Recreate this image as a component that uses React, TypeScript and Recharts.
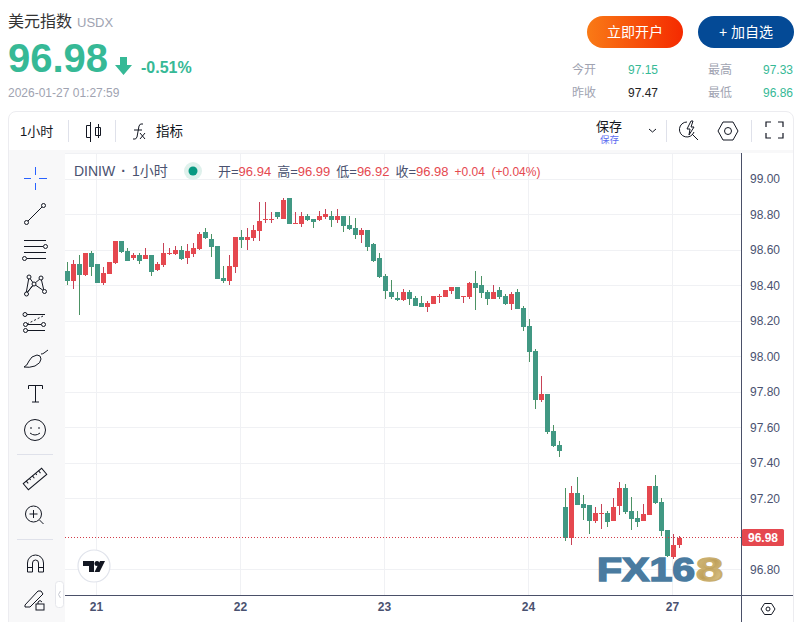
import React from "react";
import { ComposedChart, Bar, XAxis, YAxis, CartesianGrid, ReferenceLine } from "recharts";

const opens = [98.481,98.424,98.52,98.458,98.582,98.52,98.413,98.464,98.526,98.65,98.593,98.554,98.571,98.548,98.571,98.486,98.515,98.577,98.577,98.599,98.554,98.577,98.605,98.7,98.661,98.622,98.441,98.424,98.503,98.672,98.655,98.667,98.706,98.768,98.768,98.813,98.774,98.892,98.746,98.746,98.791,98.774,98.768,98.785,98.791,98.768,98.791,98.74,98.723,98.684,98.712,98.633,98.554,98.453,98.362,98.329,98.317,98.362,98.329,98.3,98.278,98.295,98.334,98.334,98.368,98.391,98.334,98.334,98.413,98.402,98.362,98.323,98.374,98.34,98.295,98.362,98.272,98.171,98.03,97.754,97.788,97.579,97.5,97.151,96.976,97.23,97.168,97.162,97.072,97.112,97.117,97.072,97.157,97.258,97.129,97.089,97.072,97.106,97.269,97.179,97.022,96.869,96.94];
const highs = [98.531,98.543,98.571,98.582,98.593,98.52,98.503,98.531,98.65,98.65,98.61,98.582,98.582,98.61,98.571,98.531,98.638,98.61,98.622,98.622,98.633,98.638,98.7,98.723,98.689,98.622,98.509,98.571,98.672,98.712,98.723,98.74,98.869,98.869,98.813,98.813,98.892,98.892,98.813,98.813,98.802,98.774,98.819,98.83,98.819,98.83,98.791,98.791,98.779,98.723,98.712,98.638,98.582,98.464,98.43,98.362,98.379,98.374,98.34,98.34,98.312,98.34,98.351,98.374,98.391,98.391,98.34,98.419,98.481,98.453,98.374,98.402,98.391,98.351,98.362,98.379,98.284,98.21,98.041,97.889,97.788,97.613,97.523,97.258,97.269,97.32,97.219,97.162,97.151,97.168,97.129,97.202,97.292,97.281,97.208,97.129,97.168,97.269,97.331,97.202,97.022,96.999,96.99];
const lows = [98.402,98.379,98.233,98.453,98.453,98.413,98.402,98.464,98.52,98.582,98.537,98.543,98.52,98.548,98.453,98.481,98.503,98.571,98.571,98.543,98.52,98.56,98.599,98.661,98.56,98.436,98.413,98.402,98.469,98.61,98.599,98.65,98.65,98.751,98.751,98.774,98.774,98.746,98.746,98.729,98.762,98.723,98.762,98.774,98.729,98.751,98.7,98.712,98.661,98.638,98.593,98.531,98.441,98.323,98.323,98.312,98.312,98.289,98.284,98.278,98.25,98.295,98.3,98.334,98.351,98.323,98.3,98.323,98.261,98.329,98.289,98.323,98.323,98.289,98.261,98.267,98.143,97.968,97.703,97.743,97.562,97.489,97.433,96.96,96.937,97.162,97.078,96.999,97.061,97.027,97.038,97.072,97.106,97.112,97.022,97.038,97.072,97.106,97.168,96.988,96.869,96.86,96.92];
const closes = [98.424,98.52,98.458,98.582,98.503,98.413,98.469,98.531,98.65,98.588,98.537,98.571,98.537,98.571,98.475,98.52,98.582,98.582,98.599,98.548,98.593,98.61,98.689,98.667,98.616,98.436,98.424,98.509,98.672,98.655,98.672,98.712,98.762,98.774,98.774,98.785,98.881,98.746,98.751,98.791,98.768,98.757,98.791,98.802,98.768,98.791,98.734,98.717,98.684,98.712,98.616,98.537,98.447,98.368,98.334,98.317,98.362,98.323,98.284,98.278,98.3,98.34,98.34,98.374,98.391,98.323,98.34,98.413,98.385,98.357,98.323,98.362,98.334,98.295,98.351,98.267,98.165,98.024,97.754,97.788,97.574,97.495,97.467,96.976,97.23,97.162,97.146,97.072,97.117,97.117,97.067,97.151,97.258,97.123,97.084,97.067,97.112,97.269,97.174,97.016,96.875,96.937,96.98];

const slotCount = 113;
const dayTickSlots = [5, 29, 53, 77, 101];
const dayTickLabels = ["21", "22", "23", "24", "27"];
const priceTicks = [99, 98.8, 98.6, 98.4, 98.2, 98, 97.8, 97.6, 97.4, 97.2, 96.8];
const lastPrice = 96.98;
const lastOpen = 96.94;
const lastHigh = 96.99;
const lastLow = 96.92;
const lastChange = "+0.04";
const lastChangePct = "(+0.04%)";

const rows = Array.from({ length: slotCount }, (_, i) => ({
  slot: i,
  open: opens[i],
  high: highs[i],
  low: lows[i],
  close: closes[i],
}));

const SANS = '"Liberation Sans", "Noto Sans CJK SC", sans-serif';
const UP = "#e5484f";
const UP_WICK = "#c74256";
const DOWN = "#419883";
const DOWN_WICK = "#4c9264";
const INK = "#131722";
const SLATE = "#4a5270";
const MUTED = "#a0a3b1";
const TEAL = "#36b996";

function Candle(props: any) {
  const { x, y, width, height, payload } = props;
  if (payload == null || payload.high == null) return null;
  const { open, high, low, close } = payload;
  const k = height / (high - low);
  const up = close >= open;
  const top = Math.round(y + (high - Math.max(open, close)) * k);
  const bottom = Math.round(y + (high - Math.min(open, close)) * k);
  const left = Math.round(x);
  const wickTop = Math.round(y);
  const wickBottom = Math.round(y + height);
  return (
    <g>
      <rect x={left + 2} y={wickTop} width={1} height={wickBottom - wickTop} fill={up ? UP_WICK : DOWN_WICK} shapeRendering="crispEdges" />
      <rect x={left} y={top} width={5} height={Math.max(1, bottom - top)} fill={up ? UP : DOWN} shapeRendering="crispEdges" />
    </g>
  );
}

function PriceTag(props: any) {
  const vb = props.viewBox;
  const yMid = Math.floor(vb.y);
  const xStart = 742;
  return (
    <g>
      <rect x={xStart} y={yMid - 8} width={42} height={17} rx={1.5} fill={UP} />
      <text x={xStart + 21} y={yMid + 4.8} textAnchor="middle" fontSize={12} fontWeight={700} fill="#fff" fontFamily={SANS}>
        {lastPrice.toFixed(2)}
      </text>
    </g>
  );
}

function PriceLine(props: any) {
  const py = Math.floor(props.y1 ?? props.y ?? 0) + 0.5;
  return <line x1={65} x2={741} y1={py} y2={py} stroke="#d23c48" strokeDasharray="1 2" />;
}

function GridRow(props: any) {
  const py = Math.floor(props.y1 + 0.01) + 0.5;
  return <line x1={props.x1} x2={props.x2} y1={py} y2={py} stroke="#f0f1f4" />;
}

const abs = (left: number, top: number, extra: React.CSSProperties = {}): React.CSSProperties => ({
  position: "absolute",
  left,
  top,
  whiteSpace: "nowrap",
  ...extra,
});

function Label({ x, y, size, color, weight, children }: any) {
  return (
    <div style={abs(x, y - size * 0.75, { fontSize: size, color, fontWeight: weight ?? 400, lineHeight: `${size * 1.5}px` })}>
      {children}
    </div>
  );
}

function Icons() {
  const s = { fill: "none", stroke: INK, strokeWidth: 1 };
  const c = (cx: number, cy: number, r = 2) => <circle cx={cx} cy={cy} r={r} {...s} fill="#f8f8f9" />;
  return (
    <svg width={802} height={622} style={{ position: "absolute", left: 0, top: 0 }}>
      <path d="M68.5 120V142M115.5 120V142M666.5 120V142M751.5 120V142" stroke="#dfe1ea" />
      <path d="M17 454.5H53M17 539.5H53" stroke="#dfe1ea" />
      <path d="M90.5 122V142M86.5 125.500h4v12h-4zM98.500 124V138M95.500 127.500h5v8h-5z" {...s} fill="#fff" />
      <path d="M133 139q3 1 4-2l2-11q1-3 4-2M134 130h8" {...s} />
      <path d="M140 133l5 6M145 133l-5 6" {...s} />
      <path d="M649 129l3.500 3 3.500-3" {...s} />
      <path d="M687 122a7.500 7.500 0 1 0 7 10" {...s} />
      <path d="M691 121l-4 8h3l-1 6 5-8h-3l2-6zM692 134l6 6" {...s} />
      <path d="M718 131l5-9h10l5 9-5 9h-10z" {...s} />
      <circle cx={728} cy={131} r={3.5} {...s} />
      <path d="M766 127v-5h5M778 122h5v5M783 133v5h-5M771 138h-5v-5" {...s} strokeWidth={1.2} />
      <path d="M24 178.500h7M39 178.500h8M35.500 167v8M35.500 183v7" stroke="#2962ff" fill="none" />
      <path d="M28 221L42 207" {...s} />
      {c(26.5, 222.5)}
      {c(43.5, 205.5)}
      <path d="M24 240.500H46M24 246.500H43M24 252.500H46M27 258.500H46" {...s} />
      {c(45.5, 246.5)}
      {c(24.5, 258.5)}
      <path d="M29 277L34 284L26 294L29 277M41 278L34 284L44 291L41 278M26 294L34 284" {...s} />
      {c(29, 277)}
      {c(41, 278)}
      {c(34, 284)}
      {c(26.5, 294)}
      {c(44.5, 291.5)}
      <path d="M27 314.500H45M27 330.500H45" {...s} />
      <path d="M27 324L43 316" {...s} strokeDasharray="2 2" />
      <path d="M27 324.500H41" {...s} />
      {c(25, 314.5)}
      {c(25.5, 324.5)}
      {c(43.5, 324.5)}
      {c(25.5, 330.5)}
      <path d="M24 367q3-1 5-6t8-6q4 0 4 4t-6 7q-6 2-11 1zM41 354q2 0 3-1l4-3" {...s} />
      <path d="M28.500 389v-3.500h14v3.500M35.500 385.500V402M32 402h7" {...s} />
      <circle cx={35} cy={430} r={10.5} {...s} />
      <path d="M30 433q5 4 10 0M31 427v2M39 427v2" {...s} />
      <g transform="rotate(-40 35 479)">
        <rect x={23} y={475} width={24} height={8} {...s} />
        <path d="M27 475v3M31 475v2M35 475v3M39 475v2M43 475v3" {...s} />
      </g>
      <circle cx={33.5} cy={514} r={8} {...s} />
      <path d="M33.500 510v8M29.500 514h8M39.500 520l4 4" {...s} />
      <path d="M27.500 572v-9a8 8 0 0 1 16 0v9h-5v-9a3 3 0 0 0-6 0v9zM27.500 567.500h5M38.500 567.500h5" {...s} />
      <path d="M25 605l13-14 3 0 2 3-13 13-5 0z" {...s} />
      <rect x={36} y={604} width={8} height={6} {...s} fill="#f8f8f9" />
      <path d="M38 604v-2q2-3 4 0" {...s} />
      <rect x={55.500} y={581.500} width={8} height={26} rx={3} fill="#fff" stroke="#e6e7ec" />
      <path d="M60.500 591l-2 3.500 2 3.500" fill="none" stroke="#c4c6cf" />
      <path d="M761 609l3.500-5.500h7l3.500 5.500-3.500 5.500h-7z" {...s} />
      <circle cx={768} cy={609} r={2} {...s} />
      <path d="M741.500 595.500H793M741.500 595.500V622" stroke="#4a5068" fill="none" />
      <circle cx={94} cy={566} r={16} fill="#fff" stroke="#e0e3eb" strokeWidth={1.2} />
      <path d="M83 561h11v11h-5v-6h-6zM100 561h5l-5.500 11h-5z" fill={INK} />
      <circle cx={97} cy={563.500} r={2.500} fill={INK} />
      <circle cx={193} cy={171} r={9} fill="#dff1ec" />
      <circle cx={193} cy={171} r={4.500} fill="#089981" />
      <path d="M120 57h7v8h5l-8.500 10-8.500-10h5z" fill={TEAL} />
      <defs>
        <linearGradient id="gold" x1="0" x2="1" y1="0" y2="1">
          <stop offset="0" stopColor="#d9c48a" />
          <stop offset="0.5" stopColor="#bfa05a" />
          <stop offset="1" stopColor="#e3cf98" />
        </linearGradient>
      </defs>
      <text x={597} y={580.5} fontFamily={SANS} fontWeight={700} fontSize={33.5} fill="#4a7ba0" stroke="#4a7ba0" strokeWidth={1.5} textLength={98} lengthAdjust="spacingAndGlyphs">FX16</text>
      <text x={696} y={580.5} fontFamily={SANS} fontWeight={700} fontSize={33.5} fill="url(#gold)" stroke="#c9ae6e" strokeWidth={1.5} textLength={27} lengthAdjust="spacingAndGlyphs">8</text>
    </svg>
  );
}

export default function App() {
  return (
    <div style={{ position: "fixed", left: 0, top: 0, width: 802, height: 622, background: "#fff", overflow: "hidden", fontFamily: SANS }}>
      <div style={{ position: "absolute", left: 8, top: 111, width: 786, height: 530, border: "1px solid #ececf0", borderRadius: 8, boxSizing: "border-box" }} />
      <div style={{ position: "absolute", left: 9, top: 150, width: 784, height: 3, background: "#f8f8f9" }} />

      <div style={{ position: "absolute", left: 0, top: 0 }}>
        <ComposedChart width={802} height={622} data={rows} margin={{ top: 153, right: 0, bottom: 0, left: 63.5 }}>
          <CartesianGrid stroke="#f0f1f4" strokeWidth={1} horizontal={(p: any) => <GridRow key={p.key ?? p.y1} {...p} />} />
          <XAxis
            dataKey="slot"
            type="category"
            ticks={dayTickSlots}
            interval={0}
            height={26.5}
            tickLine={false}
            tickSize={0}
            tickMargin={7}
            tickFormatter={(v: number) => dayTickLabels[dayTickSlots.indexOf(v)]}
            tick={{ fontSize: 12, fill: SLATE, fontWeight: 700, fontFamily: SANS }}
            axisLine={{ stroke: "#4a5068" }}
          />
          <YAxis
            orientation="right"
            width={60.5}
            type="number"
            domain={[96.6535, 99.1465]}
            allowDataOverflow
            ticks={priceTicks}
            interval={0}
            tickLine={false}
            tickSize={0}
            tickMargin={8.5}
            tickFormatter={(v: number) => v.toFixed(2)}
            tick={{ fontSize: 12, fill: SLATE, fontFamily: SANS, textAnchor: "start" }}
            axisLine={{ stroke: "#4a5068" }}
          />
          <Bar
            dataKey={(d: any) => (d.high == null ? null : [d.low, d.high])}
            barSize={5}
            shape={<Candle />}
            isAnimationActive={false}
          />
          <ReferenceLine y={lastPrice} shape={(p: any) => <PriceLine {...p} />} label={<PriceTag />} />
        </ComposedChart>
      </div>

      <div style={{ position: "absolute", left: 9, top: 153, width: 56, height: 469, background: "#f8f8f9" }} />
      <Icons />

      <Label x={8} y={22} size={16} color="#333">美元指数</Label>
      <Label x={77} y={23} size={13} color={MUTED}>USDX</Label>
      <Label x={8} y={58} size={40} color={TEAL} weight={700}>96.98</Label>
      <Label x={141} y={68} size={16} color={TEAL} weight={700}>-0.51%</Label>
      <Label x={8} y={93} size={12} color={MUTED}>2026-01-27 01:27:59</Label>

      <div style={abs(587, 16, { width: 96, height: 32, borderRadius: 16, background: "linear-gradient(90deg,#f97a16,#f52a00)", color: "#fff", fontSize: 14, lineHeight: "32px", textAlign: "center" })}>立即开户</div>
      <div style={abs(698, 16, { width: 96, height: 32, borderRadius: 16, background: "#044a96", color: "#fff", fontSize: 14, lineHeight: "32px", textAlign: "center" })}>+ 加自选</div>

      <Label x={572} y={70} size={12} color={MUTED}>今开</Label>
      <Label x={628} y={70} size={12} color={TEAL}>97.15</Label>
      <Label x={708} y={70} size={12} color={MUTED}>最高</Label>
      <Label x={763} y={70} size={12} color={TEAL}>97.33</Label>
      <Label x={572} y={93} size={12} color={MUTED}>昨收</Label>
      <Label x={628} y={93} size={12} color="#222">97.47</Label>
      <Label x={708} y={93} size={12} color={MUTED}>最低</Label>
      <Label x={763} y={93} size={12} color={TEAL}>96.86</Label>

      <Label x={20} y={132} size={13} color={INK}>1小时</Label>
      <Label x={156} y={132} size={13.5} color={INK}>指标</Label>
      <Label x={596} y={127} size={13} color={INK}>保存</Label>
      <Label x={600} y={140} size={9.5} color="#5b6cf0">保存</Label>

      <div style={abs(74, 160.5, { fontSize: 14, lineHeight: "21px", color: SLATE })}>
        DINIW<span style={{ margin: "0 6px", fontWeight: 700 }}>·</span>1小时
      </div>
      <div style={abs(218, 162, { fontSize: 13, lineHeight: "19px", color: SLATE })}>
        开=<span style={{ color: UP }}>{lastOpen.toFixed(2)}</span>
        <span style={{ marginLeft: 6 }}>高=</span><span style={{ color: UP }}>{lastHigh.toFixed(2)}</span>
        <span style={{ marginLeft: 6 }}>低=</span><span style={{ color: UP }}>{lastLow.toFixed(2)}</span>
        <span style={{ marginLeft: 6 }}>收=</span><span style={{ color: UP }}>{lastPrice.toFixed(2)}</span>
        <span style={{ marginLeft: 6, color: UP, fontSize: 12 }}>{lastChange}</span>
        <span style={{ marginLeft: 6.5, color: UP, fontSize: 12 }}>{lastChangePct}</span>
      </div>
    </div>
  );
}
